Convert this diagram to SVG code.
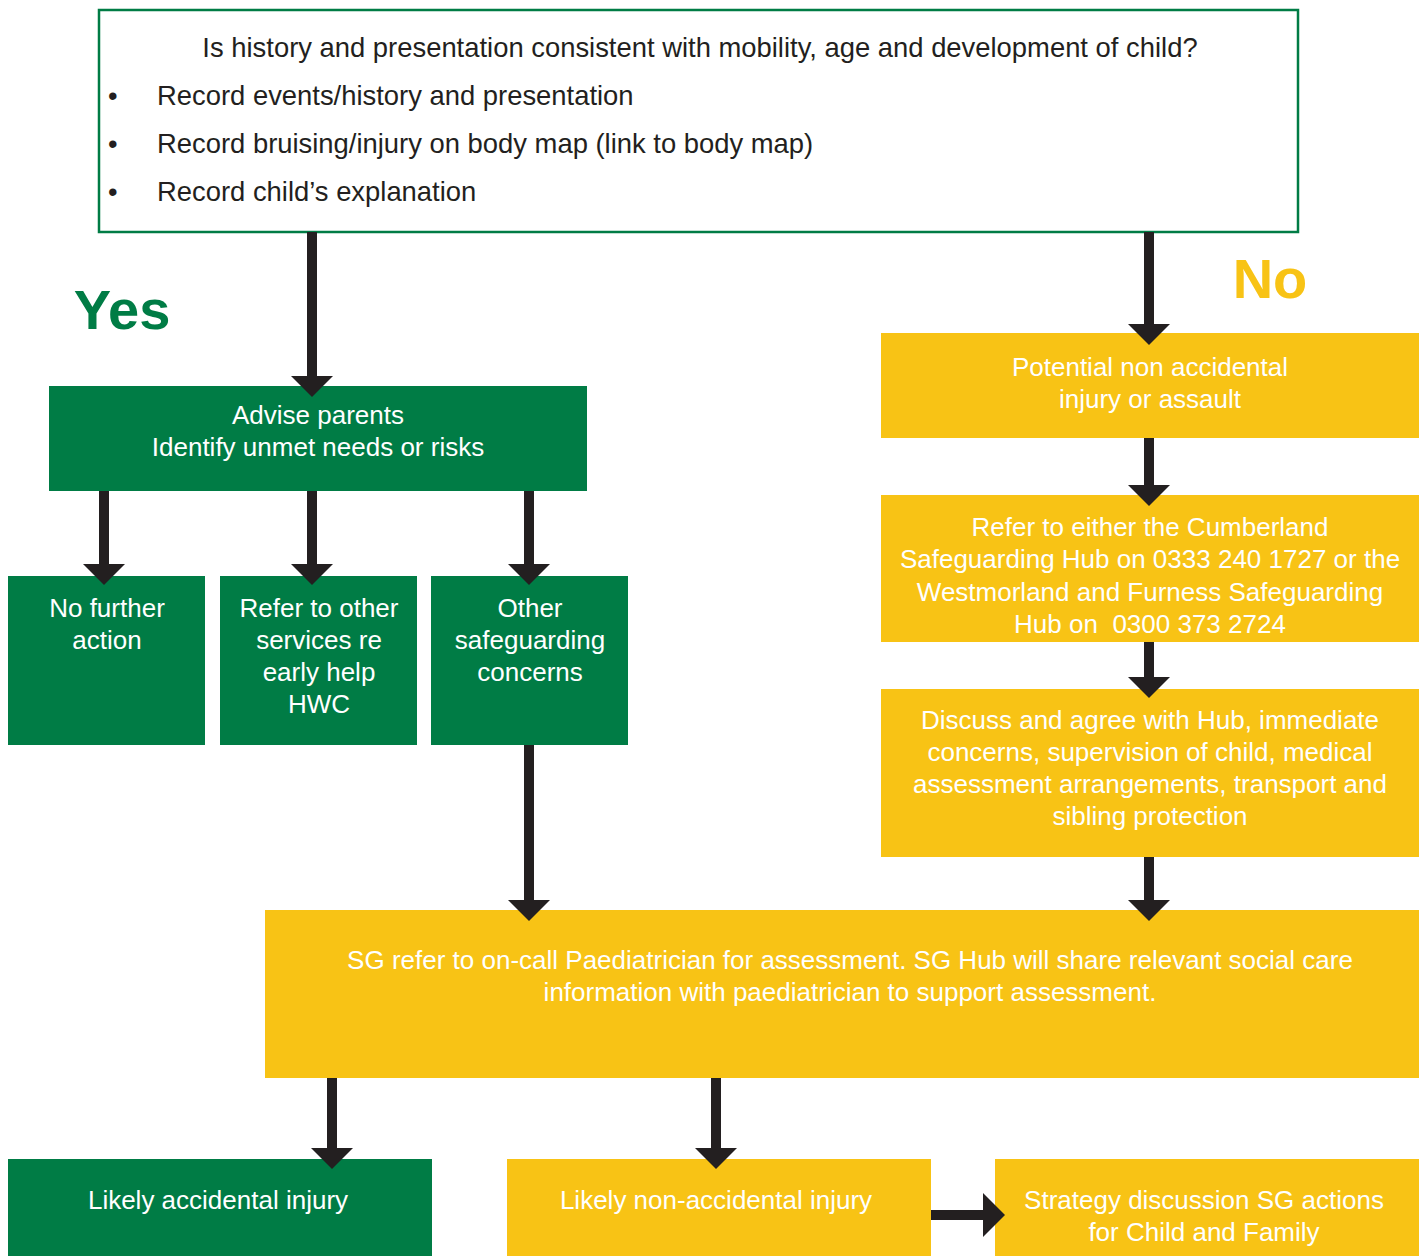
<svg xmlns="http://www.w3.org/2000/svg" width="1427" height="1256" viewBox="0 0 1427 1256">
<style>
.g{fill:#007C45}
.y{fill:#F8C315}
.t{font-family:"Liberation Sans",Arial,sans-serif;font-size:26px;fill:#ffffff;text-anchor:middle}
.d{font-family:"Liberation Sans",Arial,sans-serif;font-size:27.4px;fill:#231F20}
.big{font-family:"Liberation Sans",Arial,sans-serif;font-size:56px;font-weight:bold}
.sh{fill:#231F20}
</style>
<defs>
<path id="ah" d="M-21,0 L21,0 L0,21 Z" class="sh"/>
</defs>
<rect width="1427" height="1256" fill="#ffffff"/>

<g id="top">
<rect x="99" y="10" width="1199" height="222" fill="#ffffff" stroke="#007C45" stroke-width="2.5"/>
<text class="d" x="700" y="57" text-anchor="middle">Is history and presentation consistent with mobility, age and development of child?</text>
<text class="d" x="108" y="105">•</text><text class="d" x="157" y="105">Record events/history and presentation</text>
<text class="d" x="108" y="153">•</text><text class="d" x="157" y="153">Record bruising/injury on body map (link to body map)</text>
<text class="d" x="108" y="201">•</text><text class="d" x="157" y="201">Record child’s explanation</text>
</g>

<g id="yes"><text class="big" x="122" y="329" text-anchor="middle" fill="#007C45">Yes</text></g>
<g id="no"><text class="big" x="1270" y="298" text-anchor="middle" fill="#F8C315">No</text></g>

<g id="advise">
<rect class="g" x="49" y="386" width="538" height="105"/>
<text class="t" x="318" y="424">Advise parents</text>
<text class="t" x="318" y="456">Identify unmet needs or risks</text>
</g>

<g id="nfa">
<rect class="g" x="8" y="576" width="197" height="169"/>
<text class="t" x="107" y="617">No further</text>
<text class="t" x="107" y="649">action</text>
</g>
<g id="refer-other">
<rect class="g" x="220" y="576" width="197" height="169"/>
<text class="t" x="319" y="617">Refer to other</text>
<text class="t" x="319" y="649">services re</text>
<text class="t" x="319" y="681">early help</text>
<text class="t" x="319" y="713">HWC</text>
</g>
<g id="other-sg">
<rect class="g" x="431" y="576" width="197" height="169"/>
<text class="t" x="530" y="617">Other</text>
<text class="t" x="530" y="649">safeguarding</text>
<text class="t" x="530" y="681">concerns</text>
</g>

<g id="potential">
<rect class="y" x="881" y="333" width="538" height="105"/>
<text class="t" x="1150" y="376">Potential non accidental</text>
<text class="t" x="1150" y="408">injury or assault</text>
</g>
<g id="refer-hub">
<rect class="y" x="881" y="495" width="538" height="147"/>
<text class="t" x="1150" y="536">Refer to either the Cumberland</text>
<text class="t" x="1150" y="568">Safeguarding Hub on 0333 240 1727 or the</text>
<text class="t" x="1150" y="601">Westmorland and Furness Safeguarding</text>
<text class="t" x="1150" y="633" style="white-space:pre">Hub on  0300 373 2724</text>
</g>
<g id="discuss">
<rect class="y" x="881" y="689" width="538" height="168"/>
<text class="t" x="1150" y="729">Discuss and agree with Hub, immediate</text>
<text class="t" x="1150" y="761">concerns, supervision of child, medical</text>
<text class="t" x="1150" y="793">assessment arrangements, transport and</text>
<text class="t" x="1150" y="825">sibling protection</text>
</g>

<g id="sg-refer">
<rect class="y" x="265" y="910" width="1154" height="168"/>
<text class="t" x="850" y="969">SG refer to on-call Paediatrician for assessment. SG Hub will share relevant social care</text>
<text class="t" x="850" y="1001">information with paediatrician to support assessment.</text>
</g>

<g id="likely-acc">
<rect class="g" x="8" y="1159" width="424" height="97"/>
<text class="t" x="218" y="1209">Likely accidental injury</text>
</g>
<g id="likely-nonacc">
<rect class="y" x="507" y="1159" width="424" height="97"/>
<text class="t" x="716" y="1209">Likely non-accidental injury</text>
</g>
<g id="strategy">
<rect class="y" x="995" y="1159" width="424" height="97"/>
<text class="t" x="1204" y="1209">Strategy discussion SG actions</text>
<text class="t" x="1204" y="1241">for Child and Family</text>
</g>

<g id="connectors">
<rect class="sh" x="307" y="232" width="10" height="146"/><use href="#ah" x="312" y="376"/>
<rect class="sh" x="99" y="491" width="10" height="74"/><use href="#ah" x="104" y="564"/>
<rect class="sh" x="307" y="491" width="10" height="74"/><use href="#ah" x="312" y="564"/>
<rect class="sh" x="524" y="491" width="10" height="74"/><use href="#ah" x="529" y="564"/>
<rect class="sh" x="524" y="745" width="10" height="156"/><use href="#ah" x="529" y="900"/>
<rect class="sh" x="1144" y="232" width="10" height="94"/><use href="#ah" x="1149" y="324"/>
<rect class="sh" x="1144" y="438" width="10" height="48"/><use href="#ah" x="1149" y="485"/>
<rect class="sh" x="1144" y="642" width="10" height="37"/><use href="#ah" x="1149" y="677"/>
<rect class="sh" x="1144" y="857" width="10" height="45"/><use href="#ah" x="1149" y="900"/>
<rect class="sh" x="327" y="1078" width="10" height="72"/><use href="#ah" x="332" y="1148"/>
<rect class="sh" x="711" y="1078" width="10" height="72"/><use href="#ah" x="716" y="1148"/>
<rect class="sh" x="931" y="1210" width="54" height="10"/><path class="sh" d="M983,1193 L1005,1215 L983,1237 Z"/>
</g>
</svg>
